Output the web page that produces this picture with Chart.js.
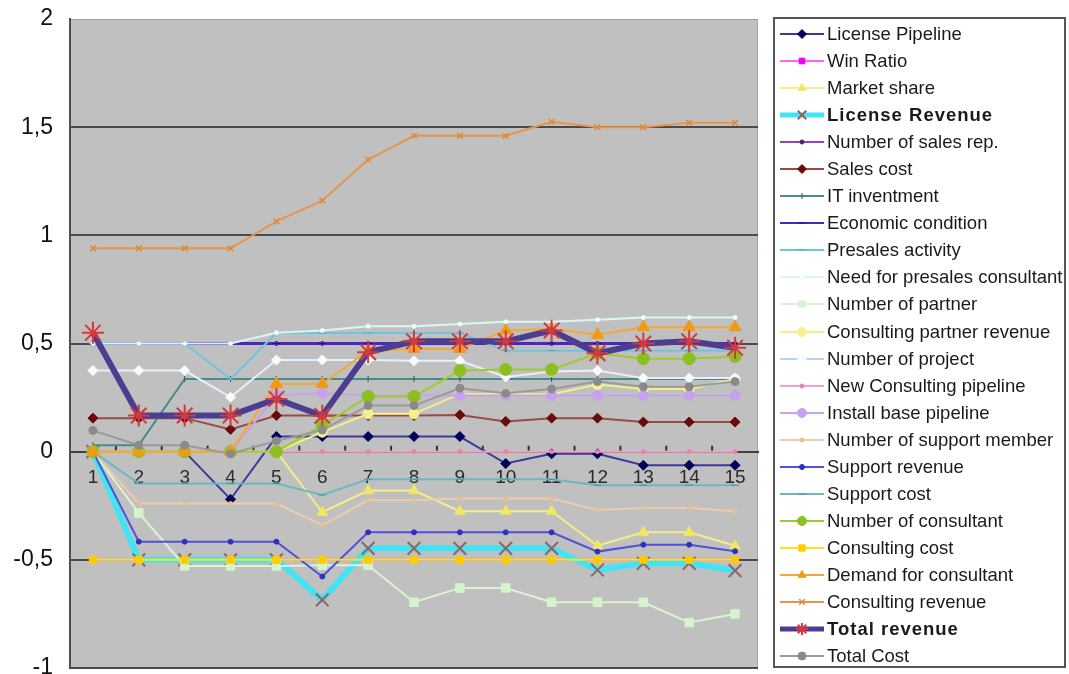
<!DOCTYPE html>
<html>
<head>
<meta charset="utf-8">
<script src="https://cdn.jsdelivr.net/npm/chart.js@4.4.1/dist/chart.umd.min.js"></script>
<style>
  html, body { margin: 0; padding: 0; background: #fff; overflow: hidden; }
  #wrap { position: relative; width: 1069px; height: 674px; overflow: hidden; }
  #chartBox { position: absolute; left: 0; top: 0; width: 771px; height: 682px; }
  #legend {
    position: absolute; left: 773px; top: 17px; width: 293px; height: 651px;
    border: 2px solid #555; box-sizing: border-box; background: #fff; padding-top: 1.5px;
  }
  .row {
    display: flex; align-items: center; height: 27.06px; white-space: nowrap;
    font: 18.5px "Liberation Sans", Arial, sans-serif; color: #1a1a1a;
  }
  .row canvas { margin-left: 5px; margin-right: 3px; }
  .row.bold { font-weight: bold; letter-spacing: 1px; }
</style>
</head>
<body>
<div id="wrap">
  <div id="chartBox"><canvas id="chart"></canvas></div>
  <div id="legend"></div>
</div>
<script>
const categories = ['1', '2', '3', '4', '5', '6', '7', '8', '9', '10', '11', '12', '13', '14', '15'];
const yTicks = [-1, -0.5, 0, 0.5, 1, 1.5, 2];

const licensePipeline = [0, 0, 0, -0.22, 0.07, 0.07, 0.07, 0.07, 0.07, -0.055, -0.01, -0.01, -0.063, -0.063, -0.063];
const winRatio = [-0.5, -0.5, -0.5, -0.5, -0.5, -0.5, -0.5, -0.5, -0.5, -0.5, -0.5, -0.5, -0.5, -0.5, -0.5];
const marketShare = [0, 0, 0, 0, 0, -0.28, -0.18, -0.18, -0.275, -0.275, -0.275, -0.435, -0.373, -0.373, -0.435];
const licenseRevenue = [0, -0.5, -0.5, -0.5, -0.5, -0.685, -0.447, -0.447, -0.447, -0.447, -0.447, -0.547, -0.516, -0.516, -0.55];
const salesReps = [0.5, 0.5, 0.5, 0.5, 0.5, 0.5, 0.5, 0.5, 0.5, 0.5, 0.5, 0.5, 0.5, 0.5, 0.5];
const salesCost = [0.155, 0.155, 0.155, 0.103, 0.167, 0.167, 0.167, 0.167, 0.17, 0.14, 0.155, 0.155, 0.137, 0.137, 0.137];
const itInvestment = [0.03, 0.03, 0.336, 0.336, 0.336, 0.336, 0.336, 0.336, 0.336, 0.336, 0.336, 0.336, 0.336, 0.336, 0.336];
const economicCondition = [0.5, 0.5, 0.5, 0.5, 0.5, 0.5, 0.5, 0.5, 0.5, 0.5, 0.5, 0.5, 0.5, 0.5, 0.5];
const presalesActivity = [0.5, 0.5, 0.5, 0.336, 0.548, 0.548, 0.548, 0.548, 0.548, 0.467, 0.467, 0.467, 0.467, 0.467, 0.467];
const needPresales = [0.5, 0.5, 0.5, 0.5, 0.55, 0.56, 0.58, 0.58, 0.59, 0.6, 0.6, 0.61, 0.62, 0.62, 0.62];
const partners = [0, -0.283, -0.528, -0.528, -0.528, -0.525, -0.525, -0.696, -0.63, -0.63, -0.696, -0.696, -0.696, -0.79, -0.75];
const partnerRevenue = [0, 0, 0, 0, 0, 0.09, 0.175, 0.175, 0.267, 0.267, 0.265, 0.31, 0.29, 0.29, 0.336];
const projects = [0.375, 0.375, 0.375, 0.252, 0.424, 0.424, 0.424, 0.42, 0.42, 0.345, 0.37, 0.375, 0.34, 0.34, 0.34];
const newConsulting = [0, 0, 0, 0, 0, 0, 0, 0, 0, 0, 0, 0, 0, 0, 0];
const installBase = [0, 0, 0, 0, 0.26, 0.27, 0.26, 0.26, 0.26, 0.26, 0.26, 0.26, 0.26, 0.26, 0.26];
const supportMembers = [0, -0.24, -0.24, -0.24, -0.24, -0.34, -0.225, -0.225, -0.217, -0.217, -0.217, -0.27, -0.26, -0.26, -0.275];
const supportRevenue = [0, -0.416, -0.416, -0.416, -0.416, -0.577, -0.373, -0.373, -0.373, -0.373, -0.373, -0.462, -0.43, -0.43, -0.46];
const supportCost = [0, -0.147, -0.147, -0.147, -0.147, -0.2, -0.128, -0.128, -0.128, -0.128, -0.128, -0.155, -0.155, -0.155, -0.155];
const consultants = [0, 0, 0, 0, 0, 0.12, 0.255, 0.255, 0.375, 0.38, 0.38, 0.455, 0.43, 0.43, 0.44];
const consultingCost = [-0.5, -0.5, -0.5, -0.5, -0.5, -0.5, -0.5, -0.5, -0.5, -0.5, -0.5, -0.5, -0.5, -0.5, -0.5];
const consultantDemand = [0, 0, 0, 0, 0.313, 0.313, 0.467, 0.475, 0.475, 0.56, 0.567, 0.54, 0.575, 0.575, 0.575];
const consultingRevenue = [0.94, 0.94, 0.94, 0.94, 1.065, 1.16, 1.35, 1.46, 1.46, 1.46, 1.525, 1.5, 1.5, 1.52, 1.52];
const totalRevenue = [0.55, 0.167, 0.167, 0.167, 0.244, 0.166, 0.46, 0.51, 0.51, 0.51, 0.56, 0.455, 0.5, 0.51, 0.48];
const totalCost = [0.098, 0.03, 0.03, -0.01, 0.05, 0.1, 0.213, 0.213, 0.293, 0.27, 0.29, 0.324, 0.3, 0.3, 0.324];

function series(label, data, line, marker, extra) {
  return Object.assign({
    label, data,
    borderColor: line, backgroundColor: marker,
    pointBackgroundColor: marker, pointBorderColor: marker,
    borderWidth: 2, pointRadius: 3, pointBorderWidth: 1,
    pointStyle: 'circle', tension: 0, fill: false
  }, extra);
}

const datasets = [
  series('License Pipeline', licensePipeline, '#3a3a9a', '#00005a', { pointStyle: 'rectRot', pointRadius: 5 }),
  series('Win Ratio', winRatio, '#ff66ff', '#ee00ee', { pointStyle: 'rect', pointRadius: 4 }),
  series('Market share', marketShare, '#f4ee88', '#f0e860', { pointStyle: 'triangle', pointRadius: 6 }),
  series('License Revenue', licenseRevenue, '#40e4f4', '#9a6060', { borderWidth: 6, pointStyle: 'crossRot', pointRadius: 9, pointBorderWidth: 2, bold: true }),
  series('Number of sales rep.', salesReps, '#9a40c0', '#50206a', { pointRadius: 2 }),
  series('Sales cost', salesCost, '#9a4a4a', '#6a0a0a', { pointStyle: 'rectRot', pointRadius: 5 }),
  series('IT inventment', itInvestment, '#4a8a8a', '#2a5a5a', { pointStyle: 'line', rotation: 90, pointRadius: 3 }),
  series('Economic condition', economicCondition, '#4a28c0', '#2a1090', { borderWidth: 3, pointStyle: 'line', pointRadius: 4 }),
  series('Presales activity', presalesActivity, '#70c4e0', '#50a8cc', { pointStyle: 'line', pointRadius: 4 }),
  series('Need for presales consultant', needPresales, '#d8f6f6', '#e8ffff', { pointRadius: 2 }),
  series('Number of partner', partners, '#dcf4d4', '#d4f4cc', { pointStyle: 'rect', pointRadius: 6 }),
  series('Consulting partner revenue', partnerRevenue, '#f6ee88', '#f8f090', { pointRadius: 5 }),
  series('Number of project', projects, '#e6f0fc', '#f8fbff', { pointStyle: 'rectRot', pointRadius: 5 }),
  series('New Consulting pipeline', newConsulting, '#f4a0c8', '#e880b0', { pointRadius: 2 }),
  series('Install base pipeline', installBase, '#c4a4ec', '#c8a0f0', { pointRadius: 5 }),
  series('Number of support member', supportMembers, '#ecccaa', '#e8c090', { pointRadius: 2 }),
  series('Support revenue', supportRevenue, '#5050d8', '#3030c0', { pointRadius: 2.5 }),
  series('Support cost', supportCost, '#6ab8c0', '#3a9aa0', { pointStyle: 'line', pointRadius: 4 }),
  series('Number of consultant', consultants, '#9ccc30', '#8cc020', { pointRadius: 6 }),
  series('Consulting cost', consultingCost, '#ffe020', '#ffcc00', { pointStyle: 'rect', pointRadius: 5 }),
  series('Demand for consultant', consultantDemand, '#f4a838', '#f09a18', { pointStyle: 'triangle', pointRadius: 7 }),
  series('Consulting revenue', consultingRevenue, '#e8944a', '#e08838', { pointStyle: 'crossRot', pointRadius: 4, pointBorderWidth: 1.5 }),
  series('Total revenue', totalRevenue, '#4b3d8f', '#d83838', { borderWidth: 6, pointStyle: 'star', pointRadius: 11, pointBorderWidth: 2, bold: true }),
  series('Total Cost', totalCost, '#9a9a9a', '#8a8a8a', { pointRadius: 4 })
];
// Excel draws later series on top
datasets.forEach((ds, i) => { ds.order = -i; });

const plotBackground = {
  id: 'plotBackground',
  beforeDraw(chart) {
    const { ctx, chartArea: a } = chart;
    ctx.save();
    ctx.fillStyle = '#c0c0c0';
    ctx.fillRect(a.left, a.top, a.right - a.left, a.bottom - a.top);
    ctx.strokeStyle = '#a6a6a6';
    ctx.lineWidth = 1;
    ctx.beginPath();
    ctx.moveTo(a.right - 0.5, a.top);
    ctx.lineTo(a.right - 0.5, a.bottom);
    ctx.stroke();
    ctx.restore();
  },
  beforeDatasetsDraw(chart) {
    // small tick marks between categories, above the zero axis
    const { ctx } = chart;
    const x = chart.scales.x, y = chart.scales.y;
    const y0 = y.getPixelForValue(0);
    ctx.save();
    ctx.strokeStyle = '#303030';
    ctx.lineWidth = 2;
    ctx.beginPath();
    for (let i = 0; i < categories.length - 1; i++) {
      const xm = (x.getPixelForValue(i) + x.getPixelForValue(i + 1)) / 2;
      ctx.moveTo(xm, y0 - 6);
      ctx.lineTo(xm, y0 - 1);
    }
    ctx.stroke();
    ctx.restore();
  }
};

const chart = new Chart(document.getElementById('chart'), {
  type: 'line',
  data: { labels: categories, datasets },
  options: {
    responsive: true,
    maintainAspectRatio: false,
    animation: false,
    layout: { padding: { top: 19, bottom: 14, right: 2, left: 0 } },
    plugins: { legend: { display: false }, tooltip: { enabled: false } },
    scales: {
      x: {
        type: 'category',
        offset: true,
        position: { y: 0 },
        grid: { display: false, drawTicks: false },
        border: { display: true, color: '#404040', width: 2 },
        ticks: {
          padding: 15, color: '#2a2a2a', autoSkip: false, maxRotation: 0,
          font: { family: 'Liberation Sans', size: 19 }
        }
      },
      y: {
        min: -1,
        max: 2,
        afterBuildTicks: s => { s.ticks = yTicks.map(v => ({ value: v })); },
        afterFit: s => { s.width = 70; },
        ticks: {
          padding: 0, color: '#111',
          font: { family: 'Liberation Sans', size: 23 },
          callback: v => String(v).replace('.', ',')
        },
        grid: {
          drawTicks: true, tickLength: 17, tickColor: 'rgba(0,0,0,0)',
          lineWidth: c => (c.tick && c.tick.value === 2 ? 1 : 2),
          color: c => {
            const v = c.tick ? c.tick.value : null;
            if (v === 2) return '#a0a0a0';
            if (v === 0) return 'rgba(0,0,0,0)';
            return '#4a4a4a';
          }
        },
        border: { display: true, color: '#505050', width: 2 }
      }
    }
  },
  plugins: [plotBackground]
});

// legend built from the chart's datasets
const legendEl = document.getElementById('legend');
chart.data.datasets.forEach(ds => {
  const row = document.createElement('div');
  row.className = 'row' + (ds.bold ? ' bold' : '');
  const c = document.createElement('canvas');
  c.width = 44; c.height = 16;
  const g = c.getContext('2d');
  g.strokeStyle = ds.label === 'Number of project' ? '#b8d4f0' : ds.borderColor;
  g.lineWidth = ds.bold ? 5 : 2;
  g.beginPath(); g.moveTo(0, 8); g.lineTo(44, 8); g.stroke();
  g.fillStyle = ds.pointBackgroundColor;
  g.strokeStyle = ds.pointBorderColor;
  g.lineWidth = ds.pointBorderWidth;
  const r = Math.min(ds.pointRadius, ds.bold ? 6 : 4.5);
  if (Chart.helpers && Chart.helpers.drawPoint) {
    Chart.helpers.drawPoint(g, { pointStyle: ds.pointStyle, radius: r, rotation: ds.rotation || 0, borderWidth: ds.pointBorderWidth }, 22, 8);
  } else {
    g.beginPath(); g.arc(22, 8, r, 0, Math.PI * 2); g.fill();
  }
  row.appendChild(c);
  const t = document.createElement('span');
  t.textContent = ds.label;
  row.appendChild(t);
  legendEl.appendChild(row);
});
</script>
</body>
</html>
